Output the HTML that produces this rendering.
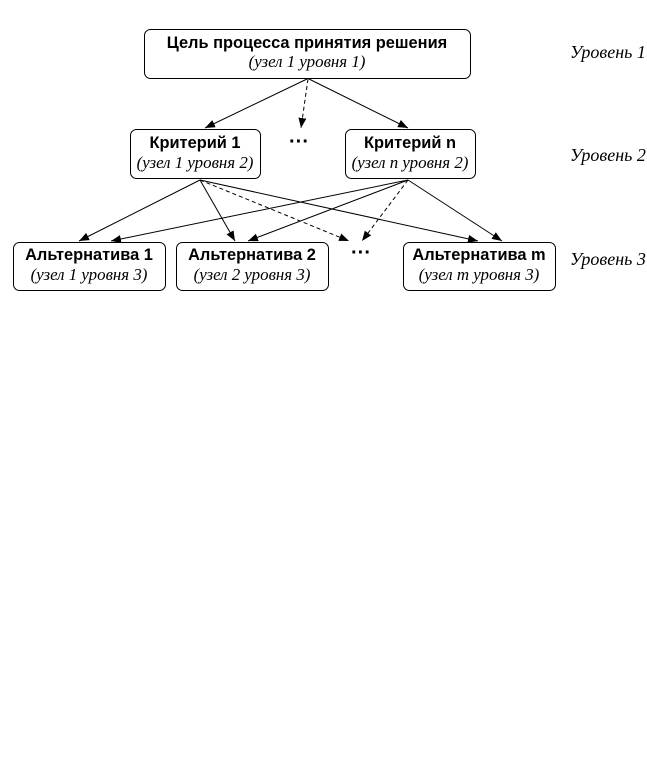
<!DOCTYPE html>
<html><head><meta charset="utf-8"><style>
html,body{margin:0;padding:0;background:#fff;width:647px;height:773px;overflow:hidden}
.b{font-family:"Liberation Sans",sans-serif;font-weight:bold;font-size:16.4px}
.i{font-family:"Liberation Serif",serif;font-style:italic;font-size:16.9px}
.l{font-family:"Liberation Serif",serif;font-style:italic;font-size:18px}
.d{font-family:"Liberation Sans",sans-serif;font-weight:bold;font-size:20px}
</style></head><body>
<svg width="647" height="773" xmlns="http://www.w3.org/2000/svg">
<defs><marker id="a" markerWidth="10" markerHeight="8" refX="10" refY="4" orient="auto" markerUnits="userSpaceOnUse"><path d="M0,0 L10,4 L0,8z" fill="#000"/></marker></defs>
<g fill="#fff" stroke="#000" stroke-width="1">
<rect x="144.5" y="29.5" width="326" height="49" rx="6"/>
<rect x="130.5" y="129.5" width="130" height="49" rx="6"/>
<rect x="345.5" y="129.5" width="130" height="49" rx="6"/>
<rect x="13.5" y="242.5" width="152" height="48" rx="6"/>
<rect x="176.5" y="242.5" width="152" height="48" rx="6"/>
<rect x="403.5" y="242.5" width="152" height="48" rx="6"/>
</g>
<g stroke="#000" stroke-width="1" marker-end="url(#a)">
<line x1="307" y1="79" x2="205" y2="128"/>
<line x1="309" y1="79" x2="408" y2="128"/>
<line x1="308" y1="79" x2="301" y2="128" stroke-dasharray="4,3"/>
<line x1="200" y1="180" x2="79" y2="241"/>
<line x1="200" y1="180" x2="235" y2="241"/>
<line x1="200" y1="180" x2="349" y2="241" stroke-dasharray="4,3"/>
<line x1="200" y1="180" x2="478" y2="241"/>
<line x1="408" y1="180" x2="111" y2="241"/>
<line x1="408" y1="180" x2="248" y2="241"/>
<line x1="408" y1="180" x2="362" y2="241" stroke-dasharray="4,3"/>
<line x1="408" y1="180" x2="502" y2="241"/>
</g>
<g text-anchor="middle">
<text class="b" x="307" y="48">Цель процесса принятия решения</text>
<text class="i" x="307" y="67">(узел 1 уровня 1)</text>
<text class="b" x="195" y="148">Критерий 1</text>
<text class="i" x="195" y="168">(узел 1 уровня 2)</text>
<text class="b" x="410" y="148">Критерий n</text>
<text class="i" x="410" y="168">(узел n уровня 2)</text>
<text class="b" x="89" y="260">Альтернатива 1</text>
<text class="i" x="89" y="280">(узел 1 уровня 3)</text>
<text class="b" x="252" y="260">Альтернатива 2</text>
<text class="i" x="252" y="280">(узел 2 уровня 3)</text>
<text class="b" x="479" y="260">Альтернатива m</text>
<text class="i" x="479" y="280">(узел m уровня 3)</text>
<text class="d" x="299" y="148">···</text>
<text class="d" x="361" y="259">···</text>
</g>
<text class="l" x="570" y="58">Уровень 1</text>
<text class="l" x="570" y="161">Уровень 2</text>
<text class="l" x="570" y="265">Уровень 3</text>
</svg>
</body></html>
